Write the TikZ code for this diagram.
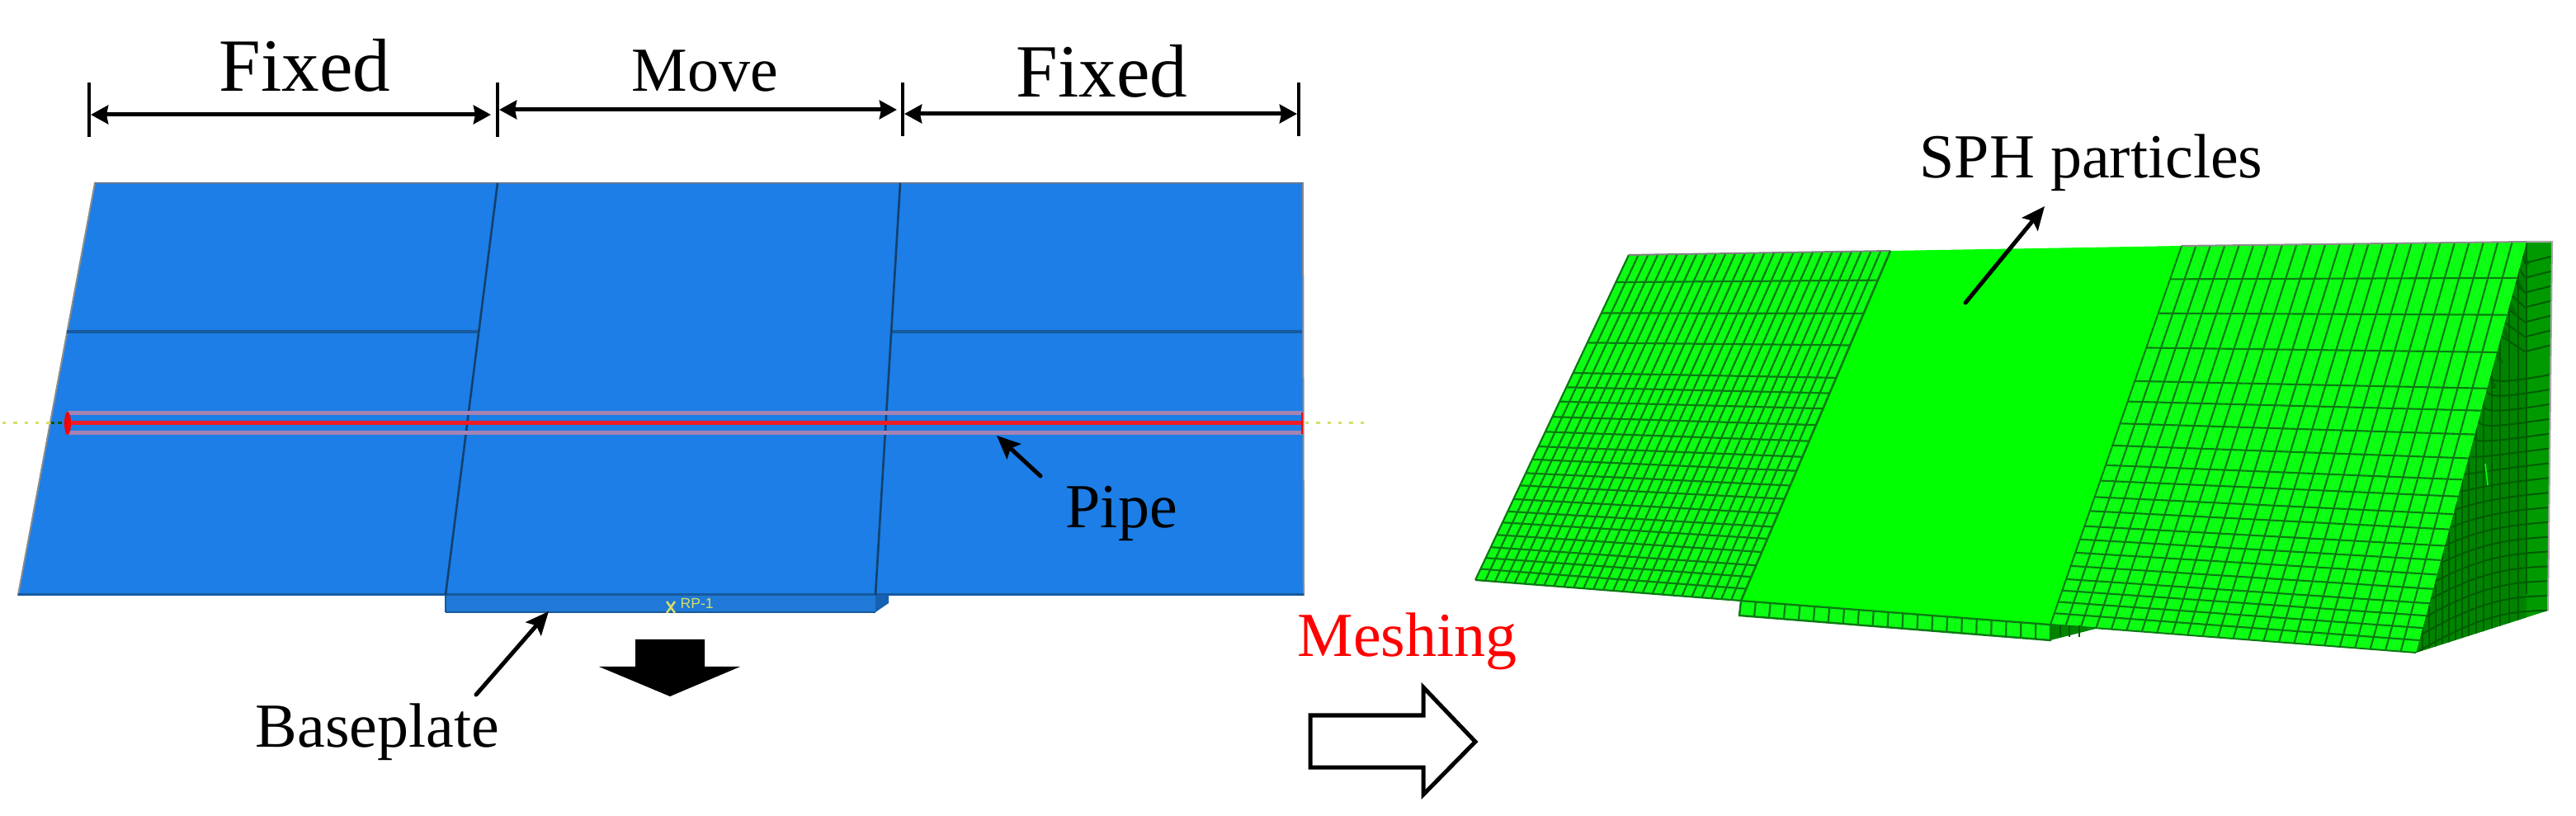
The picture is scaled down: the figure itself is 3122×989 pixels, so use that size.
\documentclass[tikz,border=0pt]{standalone}
\usepackage{fontspec}
\setmainfont{Liberation Serif}
\newfontfamily\rpfont{Liberation Sans}
\usetikzlibrary{arrows.meta,calc}
\definecolor{plateblue}{HTML}{1C7EE6}
\definecolor{baseblue}{HTML}{2079D6}
\definecolor{sideblue}{HTML}{1560B0}
\definecolor{seamblue}{HTML}{14406E}
\definecolor{ridgeblue}{HTML}{17599E}
\definecolor{bandpink}{HTML}{A583B4}
\definecolor{corered}{HTML}{EE1C24}
\definecolor{axisyellow}{HTML}{D6DE66}
\definecolor{meshgreen}{HTML}{0CFF12}
\definecolor{solidgreen}{HTML}{00FF00}
\definecolor{gridgreen}{HTML}{0A7A12}
\definecolor{facegreen}{HTML}{009A00}
\definecolor{facedark}{HTML}{008400}
\definecolor{facegrid}{HTML}{005C00}
\tikzset{
  px/.style={line width=#1*0.2845pt},
  dimtick/.style={px=4.5,black},
  dimarrow/.style={px=5,black,{Stealth[length=6pt,width=6.4pt,inset=0.6pt]}-{Stealth[length=6pt,width=6.4pt,inset=0.6pt]}},
  callout/.style={px=5,black,-{Stealth[length=8pt,width=7pt,inset=1.5pt]},line cap=round},
  bigtxt/.style={inner sep=0pt,anchor=base west,font=\fontsize{25.9}{30}\selectfont},
  midtxt/.style={inner sep=0pt,anchor=base west,font=\fontsize{21.6}{26}\selectfont},
  seam/.style={px=2.6,seamblue},
  grid/.style={px=2.2,gridgreen},
  gridthin/.style={px=2.1,gridgreen}
}
\newcommand{\meshgrid}[7]{%
  % TL TR BR BL ncols rowlist style
  \foreach \i in {1,...,#5}{
    \draw[#7] ($(#1)!{\i/(#5+1)}!(#2)$) -- ($(#4)!{\i/(#5+1)}!(#3)$);
  }
  \foreach \t in {#6}{
    \draw[#7] ($(#1)!\t!(#4)$) -- ($(#2)!\t!(#3)$);
  }
}
\begin{document}
\begin{tikzpicture}[x=0.01cm,y=-0.01cm]
\useasboundingbox (0,0) rectangle (3122,989);
\fill[white] (0,0) rectangle (3122,989);

% ---- blue model
\coordinate (pTL) at (115,222);
\coordinate (pTR) at (1579,222);
\coordinate (pBR) at (1580,721);
\coordinate (pBL) at (22,721);
\coordinate (s1T) at (603,222);
\coordinate (s1B) at (540,721);
\coordinate (s2T) at (1091,222);
\coordinate (s2B) at (1061,721);
\draw[px=2,draw=black!45,fill=plateblue] (pTL) -- (pTR) -- (pBR) -- (pBL) -- cycle;
\draw[px=3,ridgeblue] (pBL) -- (pBR);
\draw[px=1.5,seamblue!70] (pTL) -- (pTR);
\fill[baseblue] (540,721) rectangle (1061,742);
\fill[sideblue] (1061,721) -- (1077,721) -- (1077,731) -- (1061,742) -- cycle;
\draw[px=2.5,ridgeblue] (540,742) -- (1061,742);
\draw[px=2,ridgeblue] (540,721) -- (540,742);
\draw[px=3,ridgeblue] (540,721) -- (1061,721);
\draw[px=4,ridgeblue] (81,402) -- (580,402);
\draw[px=4,ridgeblue] (1080,402) -- (1578,402);
\draw[seam] (s1T) -- (s1B);
\draw[seam] (s2T) -- (s2B);
% pipe
\draw[px=5,bandpink] (82,501) -- (1578,501);
\draw[px=5,bandpink] (82,525) -- (1578,525);
\draw[px=5,corered] (82,513) -- (1578,513);
\fill[red] (82,513) ellipse (4 and 14);
\draw[px=2.5,red] (1578,500) -- (1578,526);
\draw[px=3,axisyellow,dash pattern=on 1.2pt off 2.6pt] (3,513) -- (62,513);
\draw[px=3,gridgreen!70!black,dash pattern=on 1.2pt off 1.2pt] (62,513) -- (80,513);
\draw[px=3,axisyellow,dash pattern=on 1.2pt off 2.6pt] (1582,513) -- (1658,513);
% RP-1
\draw[px=2.5,axisyellow] (808,729) -- (818,743) (818,729) -- (808,743);
\node[inner sep=0pt,anchor=west,text=axisyellow,font=\rpfont\fontsize{5}{6}\selectfont] (rp) at (824,731) {RP-1};

% ---- dimension lines
\coordinate (t1a) at (108,100); \coordinate (t1b) at (108,166);
\coordinate (t2a) at (603,100); \coordinate (t2b) at (603,166);
\coordinate (t3a) at (1094,100); \coordinate (t3b) at (1094,165);
\coordinate (t4a) at (1574,100); \coordinate (t4b) at (1574,165);
\draw[dimtick] (t1a) -- (t1b);
\draw[dimtick] (t2a) -- (t2b);
\draw[dimtick] (t3a) -- (t3b);
\draw[dimtick] (t4a) -- (t4b);
\coordinate (d1a) at (110,139); \coordinate (d1b) at (595,139);
\coordinate (d2a) at (605,133); \coordinate (d2b) at (1087,133);
\coordinate (d3a) at (1096,138); \coordinate (d3b) at (1572,138);
\draw[dimarrow] (d1a) -- (d1b);
\draw[dimarrow] (d2a) -- (d2b);
\draw[dimarrow] (d3a) -- (d3b);
\node[bigtxt] (fixedL) at (265,111) {Fixed};
\node[midtxt] (move) at (765,111) {Move};
\node[bigtxt] (fixedR) at (1231,118) {Fixed};

% ---- callouts left
\node[midtxt] (pipe) at (1291,640) {Pipe};
\coordinate (pipeT) at (1261,577); \coordinate (pipeH) at (1208,528);
\draw[callout] (pipeT) -- (pipeH);
\node[midtxt] (baseplate) at (309,906) {Baseplate};
\coordinate (baseT) at (577,842); \coordinate (baseH) at (665,741);
\draw[callout] (baseT) -- (baseH);
\fill[black] (770,775) -- (854,775) -- (854,808) -- (897,808) -- (812,844) -- (726,808) -- (770,808) -- cycle;

% ---- meshing
\node[midtxt,text=red] (meshing) at (1572,796) {Meshing};
\draw[px=5,draw=black,fill=white,miter limit=4] (1588,867) -- (1725,867) -- (1725,833) -- (1788,899) -- (1725,963) -- (1725,930) -- (1588,930) -- cycle;

% ---- green model: right side face
\coordinate (fA) at (3062,293);
\coordinate (fB) at (3093,293);
\coordinate (fC) at (3088,740);
\coordinate (fD) at (2928,791);
\fill[facegreen] (fA) -- (fB) -- (fC) -- (fD) -- cycle;
\begin{scope}
  \clip (fA) -- (fB) -- (fC) -- (fD) -- cycle;
  \fill[facedark] (fA) -- (3062,760) -- (fD) -- cycle;
  % near-vertical element lines, denser towards the slope
  \foreach \x in {2936,2944,2952,2960,2968,2976,2984,2992,3001,3010,3020,3030,3041,3052}{
    \draw[px=1.6,facegrid] (\x,800) -- (\x,300);
  }
  \foreach \s in {0.04,0.08,...,0.32}{
    \pgfmathsetmacro{\yr}{293+447*\s}
    \pgfmathsetmacro{\yl}{293+498*\s*0.82}
    \pgfmathsetmacro{\xl}{3062-134*\s*0.82}
    \pgfmathsetmacro{\ym}{\yr+8}
    \draw[px=2,facegrid] (\xl,\yl) -- (3060,\ym) -- (3092,\yr);
  }
  \foreach \s in {0.36,0.40,...,1.0}{
    \pgfmathsetmacro{\yr}{293+447*\s}
    \pgfmathsetmacro{\g}{0.26+(\s-0.318)*0.74/0.682}
    \pgfmathsetmacro{\yl}{293+498*\g}
    \pgfmathsetmacro{\xl}{3062-134*\g}
    \pgfmathsetmacro{\ym}{\yr+14*(1-\s)}
    \draw[px=2,facegrid] (\xl,\yl) .. controls (3005,{\ym+6}) and (3040,\ym) .. (3092,\yr);
  }
  \foreach \s in {0,0.06,...,0.3}{
    \pgfmathsetmacro{\xa}{3062-134*\s-12}
    \pgfmathsetmacro{\ya}{293+498*\s}
    \draw[px=5,facegrid,opacity=.55] (\xa,\ya) -- (\xa+14,\ya+28);
  }
\end{scope}
\draw[px=2,facegrid] (3062,293) -- (3062,720);
\draw[px=2,black!35] (fA) -- (fB) -- (fC);
\draw[px=1.5,meshgreen] (3012,562) -- (3015,588);

% ---- green model: left panel
\coordinate (lTL) at (1974,309);
\coordinate (lTR) at (2291,304);
\coordinate (lBR) at (2110,728);
\coordinate (lBL) at (1788,703);
\fill[meshgreen] (lTL) -- (lTR) -- (lBR) -- (lBL) -- cycle;
\meshgrid{lTL}{lTR}{lBR}{lBL}{26}{.084,.179,.27,.363,.407,.451,.498,.544,.589,.629,.671,.709,.751,.789,.823,.861,.899,.932,.966}{grid}
\draw[px=2.2,gridgreen] (lBL) -- (lBR);
\draw[px=2.2,gridgreen] (lBL) -- (lTL);
\draw[px=2,black!50] (lTL) -- (lTR);

% ---- green model: right panel
\coordinate (rTL) at (2644,298);
\coordinate (rTR) at (3062,293);
\coordinate (rBR) at (2928,791);
\coordinate (rBL) at (2485,757);
\fill[meshgreen] (rTL) -- (rTR) -- (rBR) -- (rBL) -- cycle;
\meshgrid{rTL}{rTR}{rBR}{rBL}{23}{.088,.178,.269,.357,.411,.469,.527,.579,.62,.663,.70,.74,.775,.81,.845,.88,.91,.94,.97}{gridthin}
\draw[px=2,gridgreen] (rBL) -- (rBR);
\draw[px=2,black!45] (rTL) -- (rTR);

% ---- green model: baseplate and middle panel
\coordinate (bTL) at (2110,728);
\coordinate (bTR) at (2485,757);
\coordinate (bBR) at (2485,776);
\coordinate (bBL) at (2108,746);
\fill[facedark] (bTR) -- (2540,762) -- (bBR) -- cycle;
\foreach \x in {2497,2508,2520}{\draw[px=1.6,facegrid] (\x,758) -- (\x,772);}
\fill[meshgreen] (bTL) -- (bTR) -- (bBR) -- (bBL) -- cycle;
\foreach \i in {1,...,20}{
  \draw[grid] ($(bTL)!{\i/21}!(bTR)$) -- ($(bBL)!{\i/21}!(bBR)$);
}
\draw[px=2.4,gridgreen] (bTL) -- (bTR) -- (bBR) -- (bBL) -- cycle;
\fill[solidgreen] (lTR) -- (rTL) -- (bTR) -- (bTL) -- cycle;
\draw[px=2.6,gridgreen] (lTR) -- (bTL);
\draw[px=2,gridgreen] (rTL) -- (bTR);
\draw[px=2,gridgreen] (bTL) -- (bTR);

% ---- SPH
\node[midtxt] (sph) at (2326,216) {SPH particles};
\coordinate (sphT) at (2382,367); \coordinate (sphH) at (2478,250);
\draw[callout] (sphT) -- (sphH);
\end{tikzpicture}
\end{document}
